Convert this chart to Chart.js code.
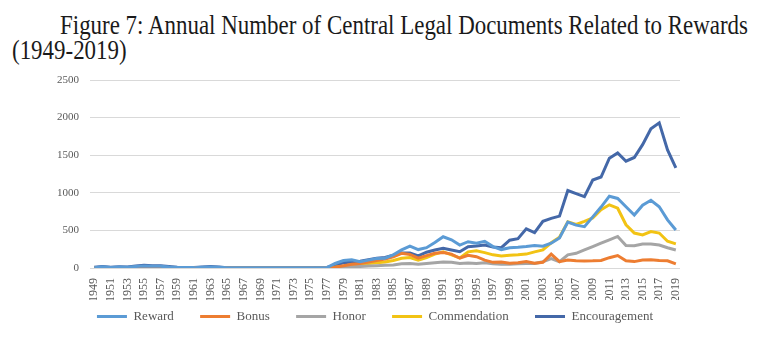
<!DOCTYPE html>
<html>
<head>
<meta charset="utf-8">
<script src="https://cdn.jsdelivr.net/npm/chart.js@4.4.1/dist/chart.umd.min.js"></script>
<style>
  body { margin: 0; background: #fff; width: 780px; height: 350px; overflow: hidden; position: relative; }
  .title { position: absolute; font-family: "Liberation Serif", "Times New Roman", serif; font-size: 27px;
           line-height: 27px; color: #1a1a1a; white-space: nowrap; transform-origin: 0 0; }
  #wrap { position: absolute; left: 0; top: 68px; width: 780px; height: 282px; }
</style>
</head>
<body>
<div class="title" id="t1" style="left:60px; top:12px;">Figure 7: Annual Number of Central Legal Documents Related to Rewards</div>
<div class="title" id="t2" style="left:12px; top:37px;">(1949-2019)</div>
<div id="wrap"><canvas id="chart" width="780" height="282"></canvas></div>
<script>
// data
const years = [];
for (let y = 1949; y <= 2019; y++) years.push(String(y));

const reward = [5, 15, 8, 12, 10, 20, 25, 22, 22, 12, 6, 5, 5, 10, 12, 10, 3, 3, 3, 3, 3, 3, 3, 3, 3, 3, 3, 3, 4,
  60, 100, 110, 85, 105, 125, 130, 175, 240, 290, 245, 270, 340, 415, 375, 305, 350, 330, 355, 285, 245,
  270, 275, 285, 300, 290, 330, 400, 610, 570, 550, 680, 810, 955, 925, 815, 705, 835, 900, 815, 640, 505];
const bonus = [2, 3, 2, 3, 2, 6, 10, 6, 5, 3, 2, 2, 2, 3, 3, 2, 1, 1, 1, 1, 1, 1, 1, 1, 1, 1, 1, 1, 1,
  10, 30, 50, 60, 80, 100, 120, 150, 195, 180, 130, 165, 195, 205, 185, 130, 170, 150, 105, 75, 80,
  62, 70, 85, 62, 75, 185, 85, 105, 97, 93, 95, 100, 137, 165, 95, 85, 105, 110, 100, 95, 55];
const honor = [1, 2, 1, 2, 1, 3, 4, 3, 3, 2, 1, 1, 1, 2, 2, 1, 0, 0, 0, 0, 0, 0, 0, 0, 0, 0, 0, 0, 0,
  5, 10, 15, 20, 25, 30, 35, 40, 55, 60, 50, 60, 70, 80, 75, 60, 65, 60, 70, 55, 50,
  50, 55, 60, 60, 84, 125, 84, 175, 195, 240, 285, 330, 375, 420, 300, 295, 320, 320, 305, 270, 240];
const commendation = [2, 3, 2, 3, 2, 10, 15, 10, 8, 4, 2, 2, 2, 4, 5, 3, 1, 1, 1, 1, 1, 1, 1, 1, 1, 1, 1, 1, 2,
  10, 20, 40, 50, 60, 70, 80, 100, 130, 140, 105, 140, 185, 215, 175, 135, 215, 230, 205, 175, 160,
  170, 175, 185, 215, 240, 335, 410, 615, 580, 620, 665, 775, 840, 795, 575, 465, 440, 485, 465, 355, 320];
const encouragement = [10, 20, 10, 15, 12, 28, 35, 30, 30, 20, 10, 8, 8, 15, 20, 15, 5, 3, 2, 2, 2, 2, 3, 3, 3, 3, 4, 5, 6,
  40, 70, 80, 90, 110, 130, 140, 170, 200, 200, 160, 210, 240, 262, 240, 217, 284, 293, 306, 280, 270,
  370, 390, 520, 470, 620, 660, 690, 1030, 990, 950, 1170, 1210, 1460, 1530, 1420, 1470, 1640, 1850, 1930, 1570, 1330];
const yTicks = [0, 500, 1000, 1500, 2000, 2500];

// squeeze the title to the width it has in the figure
const t1 = document.getElementById('t1');
const t2 = document.getElementById('t2');
const k = 688 / t1.getBoundingClientRect().width;
t1.style.transform = 'scaleX(' + k + ')';
t2.style.transform = 'scaleX(' + k + ')';

const serif = '"Liberation Serif", "Times New Roman", serif';

function line(label, data, color) {
  return {
    label: label,
    data: data,
    borderColor: color,
    backgroundColor: color,
    borderWidth: 3,
    pointRadius: 0,
    tension: 0,
  };
}

const ctx = document.getElementById('chart').getContext('2d');
new Chart(ctx, {
  type: 'line',
  data: {
    labels: years,
    datasets: [
      line('Reward', reward, '#5b9bd5'),
      line('Bonus', bonus, '#ed7d31'),
      line('Honor', honor, '#a5a5a5'),
      line('Commendation', commendation, '#f2c314'),
      line('Encouragement', encouragement, '#4468a8'),
    ]
  },
  options: {
    responsive: false,
    animation: false,
    devicePixelRatio: 1,
    layout: { padding: { left: 50, right: 80, top: 12, bottom: 17 } },
    plugins: {
      tooltip: { enabled: false },
      legend: {
        position: 'bottom',
        labels: {
          boxWidth: 30,
          boxHeight: 3,
          padding: 10,
          color: '#595959',
          font: { family: serif, size: 13 },
          generateLabels: function (chart) {
            const items = Chart.defaults.plugins.legend.labels.generateLabels(chart);
            return items.map(function (it, i) {
              it.fillStyle = it.strokeStyle;
              it.lineWidth = 0;
              // wider gap between entries, as in the figure
              if (i < items.length - 1) it.text = it.text + '     ';
              return it;
            });
          }
        }
      }
    },
    scales: {
      x: {
        offset: true,
        grid: { display: false },
        border: { display: false },
        ticks: {
          autoSkip: false,
          minRotation: 90,
          maxRotation: 90,
          padding: 2,
          color: '#595959',
          font: { family: serif, size: 12 },
          callback: function (value, index) {
            return index % 2 === 0 ? this.getLabelForValue(value) : '';
          }
        },
        afterFit: function (scale) { scale.height = 32; }
      },
      y: {
        min: 0,
        max: 2500,
        afterBuildTicks: function (scale) {
          scale.ticks = yTicks.map(function (v) { return { value: v }; });
        },
        // invisible tick marks keep the labels away from the plot
        grid: { color: '#d9d9d9', drawTicks: true, tickLength: 9, tickColor: 'rgba(0,0,0,0)' },
        border: { display: false },
        ticks: {
          padding: 2,
          color: '#595959',
          font: { family: serif, size: 11 },
          callback: function (value) { return String(value); }
        },
        afterFit: function (scale) { scale.width = 40; }
      },
      // empty right-hand box so the legend sits where it does in the figure
      yR: {
        position: 'right',
        grid: { display: false },
        border: { display: false },
        ticks: { display: false },
        afterFit: function (scale) { scale.width = 20; }
      }
    }
  }
});
</script>
</body>
</html>
